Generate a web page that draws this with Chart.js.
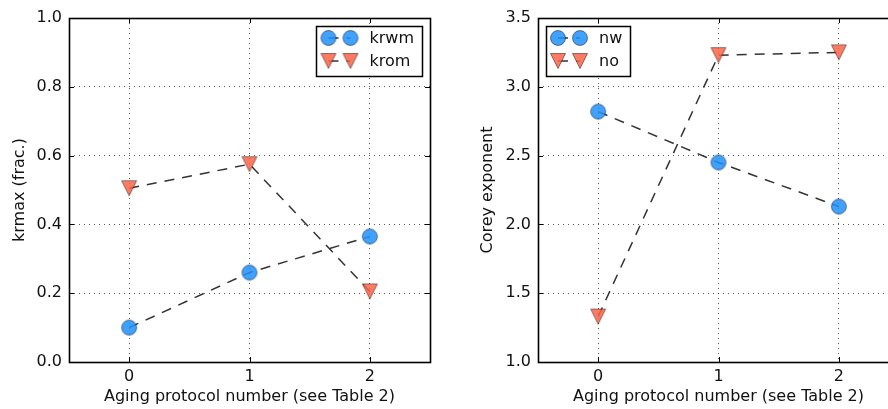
<!DOCTYPE html>
<html>
<head>
<meta charset="utf-8">
<script src="https://cdn.jsdelivr.net/npm/chart.js@4/dist/chart.umd.min.js"></script>
<style>
  html, body { margin: 0; padding: 0; background: #fff; overflow: hidden; width: 888px; height: 409px; }
  .wrap { position: absolute; top: 0; }
  #wrapL { left: 0; }
  #wrapR { left: 440px; }
</style>
</head>
<body>
<div class="wrap" id="wrapL"><canvas id="left" width="450" height="409"></canvas></div>
<div class="wrap" id="wrapR"><canvas id="right" width="470" height="409"></canvas></div>
<script>
const protocols = [0, 1, 2];
const krwm = [0.10, 0.26, 0.365];
const krom = [0.505, 0.575, 0.205];
const nw = [2.82, 2.45, 2.13];
const no = [1.33, 3.23, 3.25];

const leftYTicks = [0.0, 0.2, 0.4, 0.6, 0.8, 1.0];
const rightYTicks = [1.0, 1.5, 2.0, 2.5, 3.0, 3.5];

const BLUE = "rgba(30,144,255,0.85)";
const RED = "rgba(255,99,71,0.85)";
const FONT = "'DejaVu Sans', sans-serif";
const DASH = [10, 8];

Chart.defaults.font.family = FONT;
Chart.defaults.color = "#111";

// matplotlib-like markers, centred on their bounding box
function markerCanvas(kind, fill) {
  const s = 18;
  const c = document.createElement("canvas");
  c.width = s; c.height = s;
  const ctx = c.getContext("2d");
  const m = s / 2, h = 7.5;
  ctx.fillStyle = fill;
  ctx.strokeStyle = "rgba(0,0,0,0.5)";
  ctx.lineWidth = 0.9;
  ctx.beginPath();
  if (kind === "circle") {
    ctx.arc(m, m, h, 0, Math.PI * 2);
  } else {
    ctx.moveTo(m, m + h);
    ctx.lineTo(m - h, m - h);
    ctx.lineTo(m + h, m - h);
    ctx.closePath();
  }
  ctx.fill();
  ctx.stroke();
  return c;
}

const circleMarker = markerCanvas("circle", BLUE);
const triMarker = markerCanvas("triangle", RED);

// frame, inward ticks and the marker-line-marker legend
const framePlugin = {
  id: "frame",
  afterDraw(chart, args, opts) {
    const ctx = chart.ctx;
    const a = chart.chartArea;
    const xs = chart.scales.x, ys = chart.scales.y;
    ctx.save();
    ctx.strokeStyle = "#000";
    ctx.lineWidth = 1;
    ctx.setLineDash([]);
    ctx.beginPath();
    xs.ticks.forEach(t => {
      const px = Math.round(xs.getPixelForValue(t.value)) + 0.5;
      ctx.moveTo(px, a.bottom); ctx.lineTo(px, a.bottom - 5);
      ctx.moveTo(px, a.top); ctx.lineTo(px, a.top + 5);
    });
    ys.ticks.forEach(t => {
      const py = Math.round(ys.getPixelForValue(t.value)) + 0.5;
      ctx.moveTo(a.left, py); ctx.lineTo(a.left + 5, py);
      ctx.moveTo(a.right, py); ctx.lineTo(a.right - 5, py);
    });
    ctx.stroke();
    ctx.lineWidth = 1.6;
    ctx.strokeRect(Math.round(a.left) + 0.5, Math.round(a.top) + 0.5,
                   Math.round(a.right - a.left), Math.round(a.bottom - a.top));

    // legend
    ctx.font = "16px " + FONT;
    const ds = chart.data.datasets;
    const textW = Math.max(...ds.map(d => ctx.measureText(d.label).width));
    const w = 53 + textW + 8, h = 50;
    const bx = opts.side === "right" ? a.right - 8 - w : a.left + 8;
    const by = a.top + 8;
    ctx.fillStyle = "#fff";
    ctx.fillRect(bx, by, w, h);
    ctx.lineWidth = 1.5;
    ctx.strokeStyle = "#000";
    ctx.strokeRect(Math.round(bx) + 0.5, Math.round(by) + 0.5, Math.round(w), h);
    ds.forEach((d, i) => {
      const ry = by + 12 + i * 23;
      const m1 = bx + 12, m2 = bx + 34;
      ctx.save();
      ctx.strokeStyle = "#333";
      ctx.lineWidth = 1.5;
      ctx.setLineDash(DASH);
      ctx.beginPath();
      ctx.moveTo(m1, ry); ctx.lineTo(m2, ry);
      ctx.stroke();
      ctx.restore();
      const img = d.pointStyle;
      ctx.drawImage(img, m1 - img.width / 2, ry - img.height / 2);
      ctx.drawImage(img, m2 - img.width / 2, ry - img.height / 2);
      ctx.fillStyle = "#111";
      ctx.textBaseline = "middle";
      ctx.textAlign = "left";
      ctx.fillText(d.label, bx + 53, ry + 1);
    });
    ctx.restore();
  }
};

function series(label, values, marker) {
  return {
    label,
    data: protocols.map((x, i) => ({ x, y: values[i] })),
    borderColor: "#333",
    borderWidth: 1.5,
    borderDash: DASH,
    pointStyle: marker,
    pointRadius: 8,
    pointHoverRadius: 8,
    tension: 0
  };
}

function makeChart(id, datasets, yTicks, yTitle, yAxisW, yTitlePad, rightPad, legendSide) {
  const grid = { color: "rgba(0,0,0,0.65)", lineWidth: 1, drawTicks: false };
  const border = { display: false, dash: [1, 4] };
  return new Chart(document.getElementById(id), {
    type: "line",
    data: { datasets },
    options: {
      responsive: false,
      devicePixelRatio: 1,
      animation: false,
      events: [],
      layout: { padding: { top: 18, right: rightPad, left: 0, bottom: 0 } },
      plugins: { legend: { display: false }, tooltip: { enabled: false }, frame: { side: legendSide } },
      scales: {
        x: {
          type: "linear",
          min: -0.5,
          max: 2.5,
          afterBuildTicks: s => { s.ticks = protocols.map(v => ({ value: v })); },
          afterFit: s => { s.height = 47; },
          grid, border,
          ticks: { padding: 5, font: { size: 16 }, callback: v => String(v) },
          title: { display: true, text: "Aging protocol number (see Table 2)", font: { size: 16 }, padding: { top: 0, bottom: 2.4 } }
        },
        y: {
          type: "linear",
          min: yTicks[0],
          max: yTicks[yTicks.length - 1],
          afterBuildTicks: s => { s.ticks = yTicks.map(v => ({ value: v })); },
          afterFit: s => { s.width = yAxisW; },
          grid, border,
          ticks: { padding: 7, font: { size: 16 }, callback: v => Number(v).toFixed(1) },
          title: { display: true, text: yTitle, font: { size: 16 }, padding: { top: yTitlePad, bottom: 0 } }
        }
      }
    },
    plugins: [framePlugin]
  });
}

makeChart("left",
  [series("krwm", krwm, circleMarker), series("krom", krom, triMarker)],
  leftYTicks, "krmax (frac.)", 69, 10.4, 20, "right");

makeChart("right",
  [series("nw", nw, circleMarker), series("no", no, triMarker)],
  rightYTicks, "Corey exponent", 98, 38.4, 11, "left");
</script>
</body>
</html>
